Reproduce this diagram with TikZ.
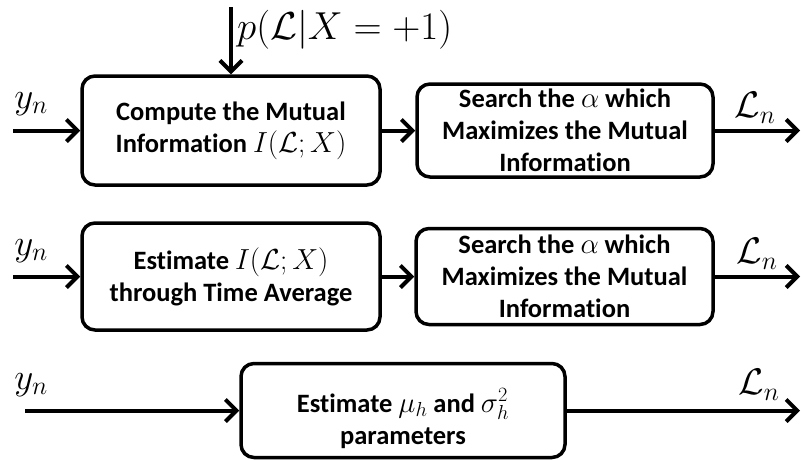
\RequirePackage{fix-cm}
\documentclass[tikz,border=0pt]{standalone}
\usepackage[no-math]{fontspec}
\setmainfont{Carlito}[Ligatures=NoCommon]
\usetikzlibrary{arrows.meta}
\newcommand{\bm}[1]{{\fontsize{29}{32}\selectfont$#1$}}
\tikzset{
  blk/.style={draw, line width=3.5pt, rounded corners=13pt, inner sep=0pt, align=center,
    font=\fontsize{26.5}{32}\selectfont\bfseries},
  conn/.style={line width=4pt, -{Straight Barb[length=11pt,width=22pt]}},
  lbl/.style={inner sep=0pt, font=\fontsize{37}{44}\selectfont},
}
\begin{document}
\begin{tikzpicture}[x=1pt,y=-1pt]
\useasboundingbox (0,0) rectangle (801,459);
% row 1
\node[blk, minimum width=298pt, minimum height=109pt] (b1) at (231,130.5)
  {Compute the Mutual\\Information \bm{I(\mathcal{L};X)}};
\node[blk, minimum width=296pt, minimum height=93pt] (b2) at (565,130.5)
  {Search the \bm{\alpha} which\\Maximizes the Mutual\\Information};
\coordinate (i1) at (13,130.5);
\coordinate (o1) at (800,130.5);
\coordinate (t1) at (231,7);
\node[lbl] (y1) at (31,104) {$y_n$};
\node[lbl] (l1) at (755,108) {$\mathcal{L}_n$};
\node[lbl, anchor=west, font=\fontsize{39}{44}\selectfont] (p1) at (237,30) {$p(\mathcal{L}|X=+1)$};
\draw[conn] (i1) -- (b1.west);
\draw[conn] (b1.east) -- (b2.west);
\draw[conn] (b2.east) -- (o1);
\draw[conn] (t1) -- (b1.north);
% row 2
\node[blk, minimum width=298pt, minimum height=107pt] (b3) at (231,276.5)
  {Estimate \bm{I(\mathcal{L};X)}\\through Time Average};
\node[blk, minimum width=297pt, minimum height=96pt] (b4) at (564.5,276.5)
  {Search the \bm{\alpha} which\\Maximizes the Mutual\\Information};
\coordinate (i2) at (13,276.5);
\coordinate (o2) at (800,276.5);
\node[lbl] (y2) at (31,251) {$y_n$};
\node[lbl] (l2) at (757,254) {$\mathcal{L}_n$};
\draw[conn] (i2) -- (b3.west);
\draw[conn] (b3.east) -- (b4.west);
\draw[conn] (b4.east) -- (o2);
% row 3
\node[blk, minimum width=324pt, minimum height=94pt] (b5) at (403,410.5)
  {\rule{0pt}{40pt}Estimate \bm{\mu_h} and \bm{\sigma_h^2}\\parameters};
\coordinate (i3) at (25,410.5);
\coordinate (o3) at (800,410.5);
\node[lbl] (y3) at (31,385) {$y_n$};
\node[lbl] (l3) at (759,385) {$\mathcal{L}_n$};
\draw[conn] (i3) -- (b5.west);
\draw[conn] (b5.east) -- (o3);
\end{tikzpicture}
\end{document}
